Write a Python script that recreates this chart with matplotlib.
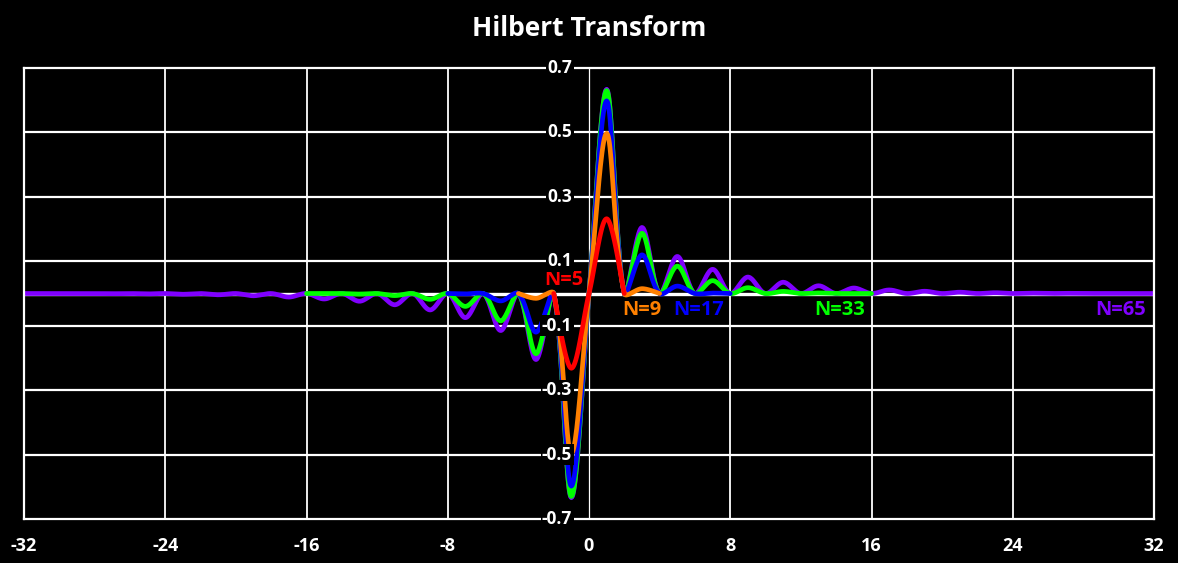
import numpy as np
import matplotlib
matplotlib.use("Agg")
import matplotlib.pyplot as plt

plt.rcParams['font.family'] = ['Open Sans', 'DejaVu Sans']

# sample index n and tap values h[n] (one list per filter length)
n65 = list(range(-32, 33))
h65 = [0, -0.0000, 0, -0.0002, 0, -0.0006, 0, -0.0012, 0, -0.0024, 0, -0.004,
       0, -0.007, 0, -0.011, 0, -0.017, 0, -0.024, 0, -0.035, 0, -0.051,
       0, -0.075, 0, -0.115, 0, -0.205, 0, -0.634,
       0,
       0.634, 0, 0.205, 0, 0.115, 0, 0.075, 0, 0.051, 0, 0.035, 0, 0.024,
       0, 0.017, 0, 0.011, 0, 0.007, 0, 0.004, 0, 0.0024, 0, 0.0012,
       0, 0.0006, 0, 0.0002, 0, 0.0000, 0]

n33 = list(range(-16, 17))
h33 = [0, -0.0002, 0, -0.0017, 0, -0.0065, 0, -0.018, 0, -0.040, 0, -0.085,
       0, -0.187, 0, -0.630,
       0,
       0.630, 0, 0.187, 0, 0.085, 0, 0.040, 0, 0.018, 0, 0.0065,
       0, 0.0017, 0, 0.0002, 0]

n17 = list(range(-8, 9))
h17 = [0, -0.0013, 0, -0.023, 0, -0.120, 0, -0.598,
       0,
       0.598, 0, 0.120, 0, 0.023, 0, 0.0013, 0]

n9 = list(range(-4, 5))
h9 = [0, -0.015, 0, -0.497, 0, 0.497, 0, 0.015, 0]

n5 = list(range(-2, 3))
h5 = [0, -0.232, 0, 0.232, 0]

series = [
    ("N=65", n65, h65, "#8000ff", (30.1, -0.05)),
    ("N=33", n33, h33, "#00ff00", (14.2, -0.05)),
    ("N=17", n17, h17, "#0000ff", (6.2, -0.05)),
    ("N=9", n9, h9, "#ff8000", (3.0, -0.05)),
    ("N=5", n5, h5, "#ff0000", (-1.42, 0.043)),
]

x_ticks = [-32, -24, -16, -8, 0, 8, 16, 24, 32]
y_ticks = [-0.7, -0.5, -0.3, -0.1, 0.1, 0.3, 0.5, 0.7]

PX_X = 1130 / 64   # pixels per x unit
PX_Y = 451 / 1.4   # pixels per y unit


def smooth_line(xs, ys, steps=24):
    # spreadsheet style "smoothed line": bezier through every point,
    # handles sized by the neighbouring segment lengths on screen
    p = np.column_stack([np.asarray(xs) * PX_X, np.asarray(ys) * PX_Y])
    n = len(p)
    left, right = np.zeros_like(p), np.zeros_like(p)
    for i in range(n):
        a = p[max(i - 1, 0)]
        b = p[min(i + 1, n - 1)]
        d1 = np.hypot(*(p[i] - a))
        d2 = np.hypot(*(b - p[i]))
        tan = b - a
        tot = d1 + d2 if d1 + d2 > 0 else 1
        if i == 0 or i == n - 1:
            left[i] = p[i] - tan / 6
            right[i] = p[i] + tan / 6
        else:
            left[i] = p[i] - tan * d1 / tot / 3
            right[i] = p[i] + tan * d2 / tot / 3
    t = np.linspace(0, 1, steps)[:, None]
    out = []
    for i in range(n - 1):
        p0, c1, c2, p1 = p[i], right[i], left[i + 1], p[i + 1]
        seg = ((1 - t) ** 3 * p0 + 3 * (1 - t) ** 2 * t * c1
               + 3 * (1 - t) * t ** 2 * c2 + t ** 3 * p1)
        out.append(seg if i == 0 else seg[1:])
    out = np.vstack(out)
    return out[:, 0] / PX_X, out[:, 1] / PX_Y


fig = plt.figure(figsize=(11.78, 5.63), dpi=100, facecolor="black")
ax = fig.add_axes([24 / 1178, 1 - 519 / 563, 1130 / 1178, 451 / 563])
ax.set_facecolor("black")
ax.set_xlim(-32, 32)
ax.set_ylim(-0.7, 0.7)

for s in ax.spines.values():
    s.set_color("white")
    s.set_linewidth(1.6)

for v in x_ticks[1:-1]:
    ax.axvline(v, color="white", lw=0.9 if v == 0 else 1.3, zorder=1)
for v in y_ticks[1:-1]:
    ax.axhline(v, color="white", lw=1.6, zorder=1)
ax.axhline(0, color="white", lw=2.4, zorder=1.5)

for z, (name, xs, ys, color, (lx, ly)) in enumerate(series):
    sx, sy = smooth_line(xs, ys)
    ax.plot(sx, sy, color=color, lw=3.4, solid_capstyle="round", zorder=2 + z)
    ax.text(lx, ly, name, color=color, fontsize=14.5, fontweight="bold",
            ha="center", va="center", zorder=10)

ax.set_xticks(x_ticks)
ax.set_xticklabels([str(v) for v in x_ticks])
ax.set_yticks([])
ax.tick_params(axis="x", length=0, pad=13, labelsize=13, labelcolor="white")
for lab in ax.get_xticklabels():
    lab.set_fontweight("bold")

for v in y_ticks:
    ax.text(-0.95, v, f"{v:.1f}", color="white", fontsize=12.5, fontweight="bold",
            ha="right", va="center", zorder=12, clip_on=False,
            bbox=dict(facecolor="black", edgecolor="none", pad=1.0))

fig.text(0.5, 1 - 28 / 563, "Hilbert Transform", color="white", fontsize=19,
         fontweight="bold", ha="center", va="center")

fig.savefig("out.png", dpi=100, facecolor="black")
